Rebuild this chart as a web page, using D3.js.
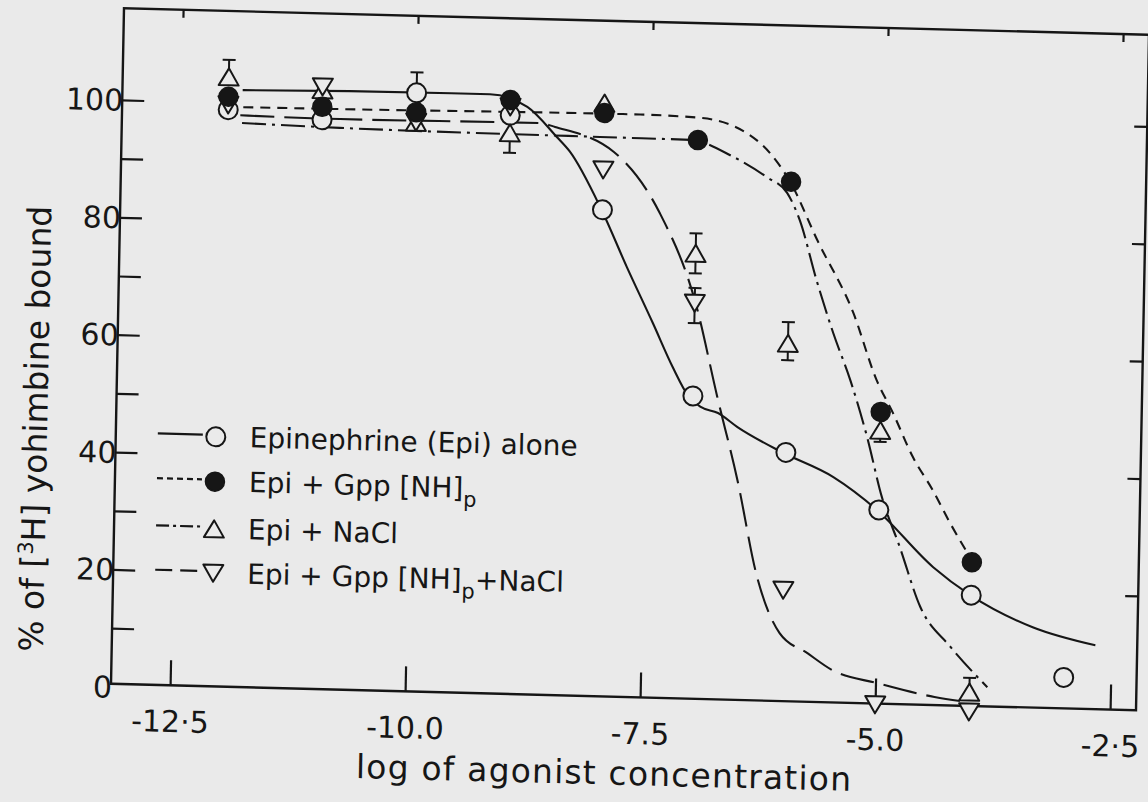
<!DOCTYPE html>
<html><head><meta charset="utf-8">
<script src="https://cdn.jsdelivr.net/npm/d3@7"></script>
<style>
html,body{margin:0;padding:0;background:#eaeaea;}
svg{display:block;}
text{font-family:"DejaVu Sans","Liberation Sans",sans-serif;fill:#161616;}
</style></head><body>
<svg id="chart" width="1148" height="802"></svg>
<script>
// ---------- data ----------
const concentrations = [-12, -11, -10, -9, -8, -7, -6, -5, -4, -3];
const epiAlone   = [98.8, 97.5, 102.5, 99.1, 83.4, 52.1, 42.9, 33.5, 19.4, 5.8];
const epiGpp     = [101.0, 99.7, 99.2, 101.7, 99.9, 95.7, 89.0, 50.2, 25.0, null];
const epiNaCl    = [104.4, 102.6, 97.5, 96.1, 101.6, 76.4, 61.5, 47.1, 2.9, null];
const epiGppNaCl = [99.6, 103.1, 97.5, 100.5, 90.2, 67.9, 19.4, 0.3, -0.5, null];

// error bars: [log conc, low, high]
const epiAloneErr   = [[-10, 102.5, 106.0]];
const epiNaClErr    = [[-12, 104.4, 107.3], [-9, 92.7, 96.1], [-7, 73.0, 79.8], [-6, 58.6, 65.1], [-5, 45.1, 47.1], [-4, 2.9, 5.3]];
const epiGppNaClErr = [[-7, 64.5, 70.5]];

// fitted curves
const fitEpiAloneX = [-11.85, -10.71, -9.22, -8.82, -8.50, -8.36, -8.01, -7.73, -7.44, -7.22, -7.05, -6.92, -6.73, -6.52, -6.04, -5.49, -5.02, -4.41, -4.01, -3.34, -2.67];
const fitEpiAloneY = [102.2, 102.5, 102.6, 100.6, 95.6, 93.2, 83.4, 73.8, 64.3, 56.9, 52.1, 50.3, 49.3, 47.0, 42.9, 38.9, 33.5, 24.0, 19.4, 14.2, 11.4];
const fitEpiGppX = [-11.84, -10.81, -7.62, -6.98, -6.48, -6.23, -6.01, -5.71, -5.31, -5.05, -4.87, -4.65, -4.43, -4.24, -4.05];
const fitEpiGppY = [99.3, 99.4, 99.8, 99.5, 97.1, 93.8, 89.0, 79.2, 66.9, 55.6, 50.1, 42.7, 37.1, 31.6, 26.6];
const fitEpiNaClX = [-11.85, -10.81, -8.04, -7.08, -6.62, -6.26, -6.04, -5.90, -5.71, -5.52, -5.33, -5.14, -4.97, -4.77, -4.54, -4.21, -3.81];
const fitEpiNaClY = [96.6, 96.2, 95.8, 95.7, 93.0, 89.7, 87.1, 82.5, 72.4, 63.4, 55.5, 45.9, 35.7, 27.3, 17.2, 10.5, 3.8];
const fitEpiGppNaClX = [-11.87, -10.81, -8.68, -8.52, -7.89, -7.39, -6.99, -6.74, -6.51, -6.28, -6.03, -5.73, -5.46, -4.98, -4.37, -4.02];
const fitEpiGppNaClY = [97.9, 97.7, 97.9, 97.3, 93.3, 83.1, 67.9, 52.0, 38.0, 21.5, 12.1, 8.8, 6.0, 4.0, 1.9, 1.2];

// axes
const xTickValues = [-12.5, -10.0, -7.5, -5.0, -2.5];
const xTickLabels = ["-12·5", "-10.0", "-7.5", "-5.0", "-2·5"];
const yMinorTicks = [10, 20, 30, 40, 50, 60, 70, 80, 90, 100];
const yTickValues = [0, 20, 40, 60, 80, 100];
const yTickLabels = ["0", "20", "40", "60", "80", "100"];
const yRightTicks = [20, 40, 60, 80, 100];
const xTitle = "log of agonist concentration";

// legend
const legendLabels = [
  ["Epinephrine (Epi) alone", "", ""],
  ["Epi + Gpp [NH]", "p", ""],
  ["Epi + NaCl", "", ""],
  ["Epi + Gpp [NH]", "p", "+NaCl"]
];

// ---------- drawing ----------
const W = 1025, H = 675.6;
const INK = "#161616", PAPER = "#eaeaea";
const svg = d3.select("#chart");
svg.append("rect").attr("width", 1148).attr("height", 802).attr("fill", PAPER);

// the scanned figure is slightly tilted
const g = svg.append("g").attr("transform", "matrix(1,0.02585,-0.01924,0.99985,111,683.75)");

const x = d3.scaleLinear().domain([-12.5, -2.5]).range([59.1, 999.1]);
const y = d3.scaleLinear().domain([0, 100]).range([3.1, -583.9]);

// frame
g.append("rect").attr("x", 0).attr("y", -H).attr("width", W).attr("height", H)
  .attr("fill", "none").attr("stroke", INK).attr("stroke-width", 2.4);

function styleAxis(sel) {
  sel.select(".domain").remove();
  sel.selectAll(".tick line").attr("stroke", INK).attr("stroke-width", 2.2);
}
// bottom
const bx = g.append("g").call(d3.axisBottom(x).tickValues(xTickValues).tickSize(-25).tickFormat((d, i) => xTickLabels[i]));
styleAxis(bx);
bx.selectAll(".tick text").attr("y", 36).attr("dy", "0.36em")
  .style("font-size", "30px").attr("fill", INK);
// top
const tx = g.append("g").attr("transform", `translate(0,${-H})`)
  .call(d3.axisTop(x).tickValues(xTickValues).tickSize(-8).tickFormat(""));
styleAxis(tx);
// left
const ly = g.append("g").call(d3.axisLeft(y).tickValues(yMinorTicks).tickSize(-22).tickFormat(""));
styleAxis(ly);
g.append("g").selectAll("text").data(yTickValues).join("text")
  .attr("x", 1).attr("y", d => y(d)).attr("dy", "0.36em")
  .attr("text-anchor", "end").style("font-size", "30px")
  .text((d, i) => yTickLabels[i]);
// right
const ry = g.append("g").attr("transform", `translate(${W},0)`)
  .call(d3.axisRight(y).tickValues(yRightTicks).tickSize(-13).tickFormat(""));
styleAxis(ry);

// axis titles
g.append("text").attr("x", 494).attr("y", 76).attr("dy", "0.36em")
  .attr("text-anchor", "middle").style("font-size", "33px")
  .attr("textLength", 495).attr("lengthAdjust", "spacing").text(xTitle);
const yt = g.append("text").attr("transform", "translate(-81,-253) rotate(-90)")
  .attr("text-anchor", "middle").attr("dy", "0.36em").style("font-size", "33px");
yt.append("tspan").text("% of [");
yt.append("tspan").text("3").style("font-size", "21px").attr("dy", "-0.55em");
yt.append("tspan").text("H] yohimbine bound").attr("dy", "0.36em").style("font-size", "33px");

// fitted curves
const line = d3.line().x(d => x(d[0])).y(d => y(d[1])).curve(d3.curveMonotoneX);
const curves = [
  {xs: fitEpiAloneX, ys: fitEpiAloneY, dash: null},
  {xs: fitEpiGppX, ys: fitEpiGppY, dash: "10,7"},
  {xs: fitEpiNaClX, ys: fitEpiNaClY, dash: "24,6,3,6"},
  {xs: fitEpiGppNaClX, ys: fitEpiGppNaClY, dash: "34,10"}
];
curves.forEach(c => {
  g.append("path").datum(c.xs.map((v, i) => [v, c.ys[i]]))
    .attr("d", line).attr("fill", "none").attr("stroke", INK)
    .attr("stroke-width", 2.1).attr("stroke-dasharray", c.dash);
});

// error bars
function errorBars(errs, values) {
  errs.forEach(([cx, lo, hi]) => {
    const val = values[concentrations.indexOf(cx)];
    const xx = x(cx);
    g.append("line").attr("x1", xx).attr("x2", xx).attr("y1", y(lo)).attr("y2", y(hi))
      .attr("stroke", INK).attr("stroke-width", 2);
    [lo, hi].forEach(e => {
      if (Math.abs(e - val) > 0.5) {
        g.append("line").attr("x1", xx - 6.5).attr("x2", xx + 6.5).attr("y1", y(e)).attr("y2", y(e))
          .attr("stroke", INK).attr("stroke-width", 2);
      }
    });
  });
}
errorBars(epiAloneErr, epiAlone);
errorBars(epiNaClErr, epiNaCl);
errorBars(epiGppNaClErr, epiGppNaCl);

// markers
const upTri = "M0,-8.5L10,8.5L-10,8.5Z";
const downTri = "M0,8.5L10,-8.5L-10,-8.5Z";
function pts(vals) { return concentrations.map((c, i) => [c, vals[i]]).filter(d => d[1] !== null); }
function drawMarker(sel, kind) {
  if (kind === "open") sel.append("circle").attr("r", 9.5).attr("fill", PAPER).attr("stroke", INK).attr("stroke-width", 2);
  if (kind === "filled") sel.append("circle").attr("r", 9.5).attr("fill", INK).attr("stroke", INK).attr("stroke-width", 1.5);
  if (kind === "up") sel.append("path").attr("d", upTri).attr("fill", PAPER).attr("stroke", INK).attr("stroke-width", 2).attr("stroke-linejoin", "round");
  if (kind === "down") sel.append("path").attr("d", downTri).attr("fill", PAPER).attr("stroke", INK).attr("stroke-width", 2).attr("stroke-linejoin", "round");
}
[[epiAlone, "open"], [epiNaCl, "up"], [epiGppNaCl, "down"], [epiGpp, "filled"]].forEach(([vals, kind]) => {
  g.append("g").selectAll("g").data(pts(vals)).join("g")
    .attr("transform", d => `translate(${x(d[0])},${y(d[1])})`)
    .each(function () { drawMarker(d3.select(this), kind); });
});

// legend
const legendKinds = ["open", "filled", "up", "down"];
const legendDash = [null, "6,4", "13,4,3,4", "17,8"];
const legendV = [-249.5, -204.7, -157.5, -113.1];
legendLabels.forEach((parts, i) => {
  const v = legendV[i];
  g.append("line").attr("x1", 42).attr("x2", 87).attr("y1", v - 2).attr("y2", v - 2)
    .attr("stroke", INK).attr("stroke-width", 2.2).attr("stroke-dasharray", legendDash[i]);
  const m = g.append("g").attr("transform", `translate(100,${v})`);
  drawMarker(m, legendKinds[i]);
  const t = g.append("text").attr("x", 134).attr("y", v + 9.5).style("font-size", "28px");
  t.append("tspan").text(parts[0]);
  if (parts[1]) t.append("tspan").text(parts[1]).style("font-size", "21px").attr("dy", 9);
  if (parts[2]) t.append("tspan").text(parts[2]).attr("dy", -9);
});
</script>
</body></html>
